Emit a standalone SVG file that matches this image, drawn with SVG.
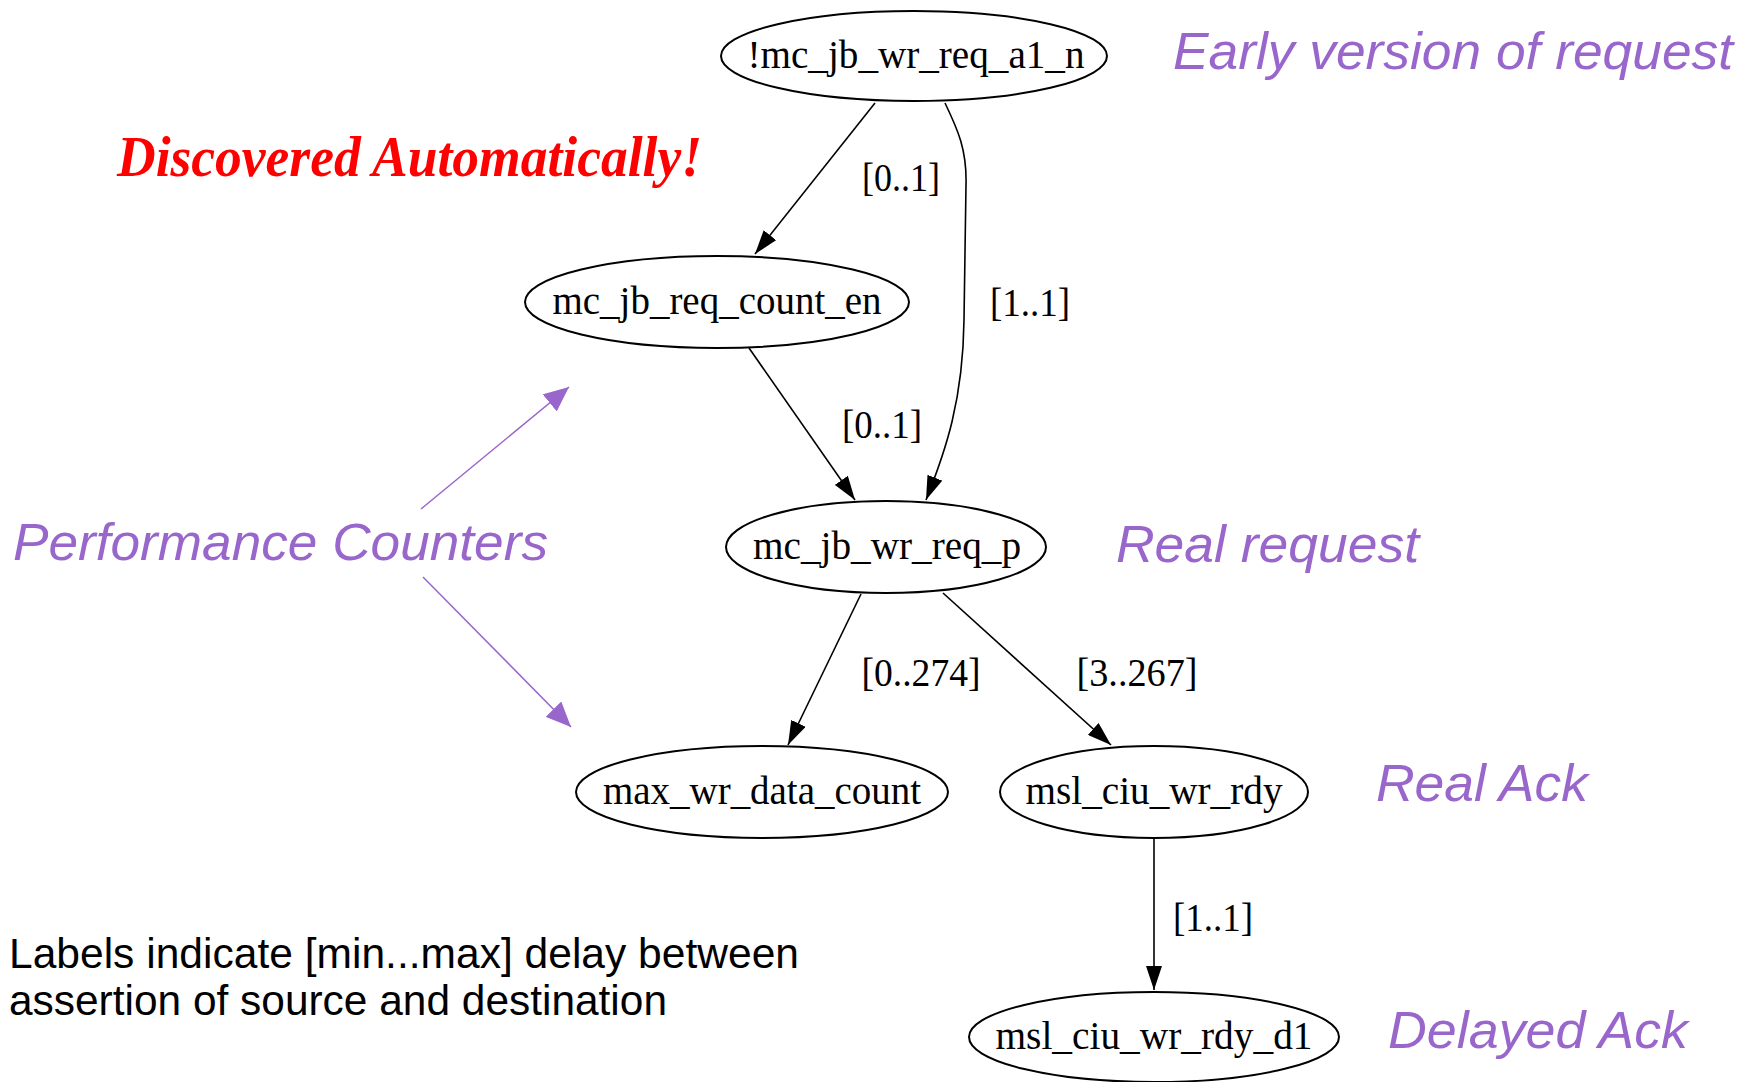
<svg xmlns="http://www.w3.org/2000/svg" width="1744" height="1082" viewBox="0 0 1744 1082">
<style>
.node ellipse{fill:none;stroke:#000;stroke-width:2}
.node text{font-family:"Liberation Serif","Times New Roman",serif;font-size:41px;fill:#000;text-anchor:middle}
.edge{fill:none;stroke:#000;stroke-width:1.6}
.elabel{font-family:"Liberation Serif","Times New Roman",serif;font-size:39px;fill:#000;text-anchor:middle}
.note{font-family:"Liberation Sans",Arial,sans-serif;font-style:italic;font-size:52px;fill:#9966CC}
.pa{fill:none;stroke:#9966CC;stroke-width:1.5}
</style>
<defs>
<marker id="ah" markerUnits="userSpaceOnUse" markerWidth="25" markerHeight="16" refX="24" refY="8" orient="auto">
<path d="M0,0 L24,8 L0,16 z" fill="#000"/>
</marker>
<marker id="ph" markerUnits="userSpaceOnUse" markerWidth="26" markerHeight="22" refX="25" refY="11" orient="auto">
<path d="M0,0 L25,11 L0,22 z" fill="#9966CC"/>
</marker>
</defs>
<rect width="1744" height="1082" fill="#fff"/>

<g id="connectors">
<path class="edge" d="M875,103 L755,254" marker-end="url(#ah)"/>
<path class="edge" d="M945,103 C958,130 967,150 966,185 L964,320 C963,400 946,450 926,500" marker-end="url(#ah)"/>
<path class="edge" d="M749,348 L855,500" marker-end="url(#ah)"/>
<path class="edge" d="M861,594 L788,745" marker-end="url(#ah)"/>
<path class="edge" d="M943,593 L1111,745" marker-end="url(#ah)"/>
<path class="edge" d="M1154,839 L1154,990" marker-end="url(#ah)"/>
<text class="elabel" x="901" y="191" textLength="78" lengthAdjust="spacingAndGlyphs">[0..1]</text>
<text class="elabel" x="1030" y="316" textLength="80" lengthAdjust="spacingAndGlyphs">[1..1]</text>
<text class="elabel" x="882" y="438" textLength="80" lengthAdjust="spacingAndGlyphs">[0..1]</text>
<text class="elabel" x="921" y="686" textLength="119" lengthAdjust="spacingAndGlyphs">[0..274]</text>
<text class="elabel" x="1137" y="686" textLength="121" lengthAdjust="spacingAndGlyphs">[3..267]</text>
<text class="elabel" x="1213" y="931" textLength="80" lengthAdjust="spacingAndGlyphs">[1..1]</text>
</g>

<g id="n1" class="node"><ellipse cx="914" cy="56" rx="193" ry="45"/><text x="916" y="68" textLength="337" lengthAdjust="spacingAndGlyphs">!mc_jb_wr_req_a1_n</text></g>
<g id="n2" class="node"><ellipse cx="717" cy="302" rx="192" ry="46"/><text x="717" y="314" textLength="329" lengthAdjust="spacingAndGlyphs">mc_jb_req_count_en</text></g>
<g id="n3" class="node"><ellipse cx="886" cy="547" rx="160" ry="46"/><text x="887" y="559" textLength="268" lengthAdjust="spacingAndGlyphs">mc_jb_wr_req_p</text></g>
<g id="n4" class="node"><ellipse cx="762" cy="792" rx="186" ry="46"/><text x="762" y="804" textLength="318" lengthAdjust="spacingAndGlyphs">max_wr_data_count</text></g>
<g id="n5" class="node"><ellipse cx="1154" cy="792" rx="154" ry="46"/><text x="1154" y="804" textLength="257" lengthAdjust="spacingAndGlyphs">msl_ciu_wr_rdy</text></g>
<g id="n6" class="node"><ellipse cx="1154" cy="1037" rx="185" ry="45"/><text x="1154" y="1049" textLength="317" lengthAdjust="spacingAndGlyphs">msl_ciu_wr_rdy_d1</text></g>

<g id="annotations">
<text x="117" y="176" font-family="'Liberation Serif','Times New Roman',serif" font-weight="bold" font-style="italic" font-size="58" fill="#FF0000" textLength="585" lengthAdjust="spacingAndGlyphs">Discovered Automatically!</text>
<text class="note" x="1173" y="69" textLength="560" lengthAdjust="spacingAndGlyphs">Early version of request</text>
<text class="note" x="13" y="560" textLength="535" lengthAdjust="spacingAndGlyphs">Performance Counters</text>
<text class="note" x="1116" y="562" textLength="303" lengthAdjust="spacingAndGlyphs">Real request</text>
<text class="note" x="1376" y="801" textLength="212" lengthAdjust="spacingAndGlyphs">Real Ack</text>
<text class="note" x="1388" y="1048" textLength="300" lengthAdjust="spacingAndGlyphs">Delayed Ack</text>
<path class="pa" d="M421,509 L569,387" marker-end="url(#ph)"/>
<path class="pa" d="M423,577 L571,727" marker-end="url(#ph)"/>
<text x="9" y="968" font-family="'Liberation Sans',Arial,sans-serif" font-size="42" fill="#000" textLength="790" lengthAdjust="spacingAndGlyphs">Labels indicate [min...max] delay between</text>
<text x="9" y="1015" font-family="'Liberation Sans',Arial,sans-serif" font-size="42" fill="#000" textLength="658" lengthAdjust="spacingAndGlyphs">assertion of source and destination</text>
</g>
</svg>
